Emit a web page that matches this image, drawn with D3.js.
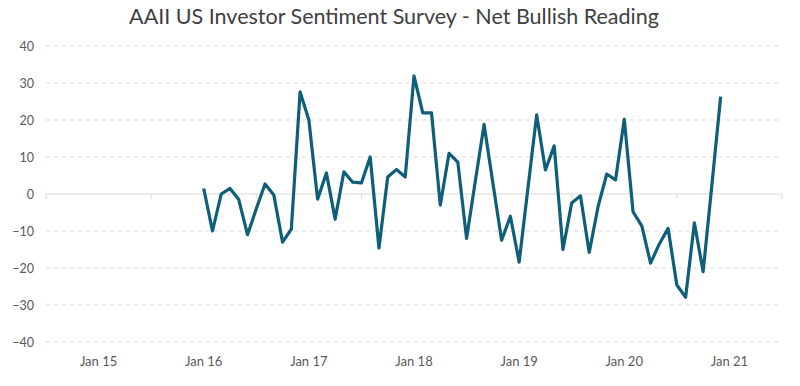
<!DOCTYPE html>
<html>
<head>
<meta charset="utf-8">
<script src="https://cdn.jsdelivr.net/npm/d3@7"></script>
<style>
  body { margin: 0; background: #fff; }
  text { font-family: Lato, "Open Sans", sans-serif; fill: #595959; }
</style>
</head>
<body>
<svg width="800" height="386"></svg>
<script>
// monthly net bullish reading, Jan 2016 .. Dec 2020
const startYear = 2016
const netBullish = [
  1.5, -10, 0, 1.5, -1.5, -11, -4, 2.7, -0.3, -13, -9.5, 27.6,
  20, -1.4, 5.7, -6.8, 6, 3.2, 3, 10, -14.6, 4.6, 6.6, 4.6,
  31.9, 21.9, 21.9, -3, 11, 8.6, -12, 3.5, 18.8, 3, -12.5, -6,
  -18.4, 1.5, 21.4, 6.5, 13, -15, -2.4, -0.5, -15.8, -3.5, 5.4, 3.8,
  20.2, -4.8, -8.6, -18.7, -13.5, -9.3, -24.6, -27.9, -7.8, -21, 2.5, 26.3
]
const yTicks = [-40, -30, -20, -10, 0, 10, 20, 30, 40]
const xLabels = ["Jan 15", "Jan 16", "Jan 17", "Jan 18", "Jan 19", "Jan 20", "Jan 21"]

const svg = d3.select("svg")

// month index relative to Jan 2016; axis runs from mid-2014 to mid-2021
const x = d3.scaleLinear().domain([-18, 66]).range([46, 782])
const y = d3.scaleLinear().domain([-40, 40]).range([342, 46])

svg.append("text")
    .attr("x", 394)
    .attr("y", 24)
    .attr("text-anchor", "middle")
    .style("font-size", "21.5px")
    .style("fill", "#404040")
    .text("AAII US Investor Sentiment Survey - Net Bullish Reading")

// gridlines
svg.append("g").selectAll("line")
    .data(yTicks.filter(d => d !== 0))
    .enter().append("line")
    .attr("x1", x(-18)).attr("x2", x(66))
    .attr("y1", d => y(d)).attr("y2", d => y(d))
    .attr("stroke", "#d9d9d9")
    .attr("stroke-dasharray", "4,4")

const yAxis = d3.axisLeft(y).tickValues(yTicks).tickSize(0).tickPadding(12)
svg.append("g")
    .attr("transform", "translate(" + x(-18) + ",0)")
    .call(yAxis)
    .call(g => g.select(".domain").remove())
    .selectAll("text")
    .style("font-size", "12.5px")
    .style("fill", "#595959")

// zero line with tick marks between years
const zero = svg.append("g").attr("transform", "translate(0," + y(0) + ")")
zero.append("line")
    .attr("x1", x(-18)).attr("x2", x(66))
    .attr("stroke", "#d9d9d9").attr("stroke-width", 1.2)
zero.selectAll("line.tick")
    .data(d3.range(-18, 67, 12))
    .enter().append("line")
    .attr("class", "tick")
    .attr("x1", d => x(d)).attr("x2", d => x(d))
    .attr("y1", 0).attr("y2", 5)
    .attr("stroke", "#d9d9d9")

svg.append("g").selectAll("text")
    .data(xLabels)
    .enter().append("text")
    .attr("x", (d, i) => x((i - 1) * 12))
    .attr("y", 366)
    .attr("text-anchor", "middle")
    .style("font-size", "13px")
    .text(d => d)

const line = d3.line()
    .x((d, i) => x(i))
    .y(d => y(d))

svg.append("path")
    .datum(netBullish)
    .attr("d", line)
    .attr("fill", "none")
    .attr("stroke", "#0f5e7a")
    .attr("stroke-width", 3.2)
    .attr("stroke-linejoin", "round")
</script>
</body>
</html>
